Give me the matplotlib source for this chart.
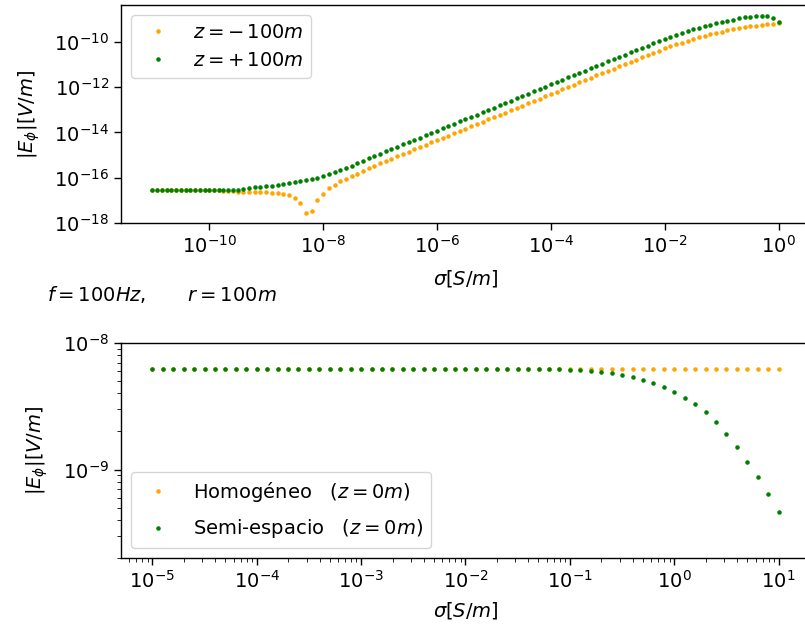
import matplotlib
matplotlib.use("Agg")
import matplotlib.pyplot as plt
import numpy as np
from matplotlib.ticker import NullLocator

plt.rcParams['font.size'] = 14
plt.rcParams['axes.linewidth'] = 1.0
plt.rcParams['xtick.major.size'] = 5
plt.rcParams['ytick.major.size'] = 5
plt.rcParams['xtick.minor.size'] = 3
plt.rcParams['ytick.minor.size'] = 3
plt.rcParams['xtick.major.width'] = 1.0
plt.rcParams['ytick.major.width'] = 1.0

# --- top panel: |E_phi| vs sigma, z = -100 m / +100 m (values as log10) ---
sig_exp_top = np.concatenate([np.linspace(-11, -9.5, 19), np.arange(-94, 1) / 10])

e_zneg_top = [-16.56, -16.56, -16.56, -16.56, -16.56, -16.56, -16.56, -16.56, -16.56, -16.56,
              -16.56, -16.56, -16.56, -16.56, -16.56, -16.57, -16.58, -16.59, -16.61,
              -16.62, -16.63, -16.63, -16.63, -16.64, -16.66, -16.68, -16.71, -16.76, -16.88,
              -17.10, -17.56, -17.45, -16.98, -16.72,
              -16.47, -16.30, -16.16, -16.04, -15.93, -15.82, -15.71, -15.59, -15.49, -15.37,
              -15.26, -15.16, -15.05, -14.95, -14.85, -14.75, -14.65, -14.54, -14.44, -14.34,
              -14.24, -14.14, -14.03, -13.93, -13.83, -13.73, -13.63, -13.52, -13.42, -13.32,
              -13.22, -13.12, -13.01, -12.91, -12.81, -12.71, -12.61, -12.50, -12.40, -12.30,
              -12.20, -12.10, -11.99, -11.89, -11.79, -11.69, -11.59, -11.48, -11.38, -11.28,
              -11.18, -11.08, -10.98, -10.88, -10.78, -10.68, -10.58, -10.48, -10.38, -10.28,
              -10.19, -10.11, -10.03, -9.95, -9.87, -9.80, -9.73, -9.66, -9.60, -9.54,
              -9.48, -9.43, -9.38, -9.34, -9.31, -9.28, -9.25, -9.22, -9.19, -9.15]

e_zpos_top = [-16.56, -16.56, -16.56, -16.56, -16.56, -16.56, -16.56, -16.56, -16.56, -16.56,
              -16.56, -16.56, -16.56, -16.56, -16.56, -16.56, -16.55, -16.54, -16.52,
              -16.49, -16.46, -16.42, -16.39, -16.37, -16.35, -16.32, -16.29, -16.24, -16.19,
              -16.15, -16.10, -16.05, -15.99, -15.92,
              -15.84, -15.75, -15.66, -15.56, -15.46, -15.36, -15.26, -15.15, -15.05, -14.94,
              -14.84, -14.74, -14.63, -14.53, -14.43, -14.33, -14.23, -14.12, -14.02, -13.92,
              -13.82, -13.72, -13.61, -13.51, -13.41, -13.31, -13.21, -13.10, -13.00, -12.90,
              -12.80, -12.70, -12.59, -12.49, -12.39, -12.29, -12.19, -12.08, -11.98, -11.88,
              -11.78, -11.68, -11.57, -11.47, -11.37, -11.27, -11.17, -11.06, -10.96, -10.86,
              -10.76, -10.66, -10.56, -10.46, -10.36, -10.26, -10.16, -10.06, -9.96, -9.86,
              -9.77, -9.69, -9.61, -9.53, -9.45, -9.38, -9.31, -9.24, -9.18, -9.12,
              -9.06, -9.01, -8.96, -8.92, -8.89, -8.86, -8.85, -8.87, -8.95, -9.10]

# --- bottom panel: z = 0 m, homogeneous vs half-space (values as log10) ---
sig_exp_bot = np.arange(-50, 11) / 10

e_homog = [-8.206] * 61

e_semi = [-8.206, -8.206, -8.206, -8.206, -8.206, -8.206, -8.206, -8.206, -8.206, -8.206,
          -8.206, -8.206, -8.206, -8.206, -8.206, -8.206, -8.206, -8.206, -8.206, -8.206,
          -8.206, -8.206, -8.206, -8.206, -8.206, -8.206, -8.206, -8.206, -8.206, -8.206,
          -8.206, -8.206, -8.206, -8.206, -8.206, -8.206, -8.206, -8.206,
          -8.207, -8.209, -8.212, -8.216, -8.222, -8.230, -8.240, -8.254, -8.271, -8.293,
          -8.318, -8.350, -8.388, -8.432, -8.486, -8.548, -8.627, -8.720, -8.823, -8.939,
          -9.063, -9.196, -9.333]

top_labels = [r'$z = -\,100m$', r'$z = +\,100m$']
bot_labels = ['Homogéneo   $(z = 0m)$', 'Semi-espacio   $(z = 0m)$']

fig = plt.figure(figsize=(8.05, 6.35), dpi=100)
ax1 = fig.add_axes([0.1503, 0.6488, 0.8559, 0.3433])
ax2 = fig.add_axes([0.1503, 0.1213, 0.8559, 0.3386])

ax1.plot(10.0 ** sig_exp_top, 10.0 ** np.array(e_zneg_top), '.', ms=4.5, color='orange', label=top_labels[0])
ax1.plot(10.0 ** sig_exp_top, 10.0 ** np.array(e_zpos_top), '.', ms=4.5, color='green', label=top_labels[1])
ax1.set_xscale('log')
ax1.set_yscale('log')
ax1.set_xlim(10 ** -11.55, 10 ** 0.55)
ax1.set_ylim(1e-18, 10 ** -8.37)
ax1.set_xticks([10.0 ** k for k in range(-10, 1, 2)])
ax1.set_yticks([10.0 ** k for k in range(-18, -9, 2)])
ax1.xaxis.set_minor_locator(NullLocator())
ax1.yaxis.set_minor_locator(NullLocator())
ax1.set_xlabel(r'$\sigma [S/m]$', labelpad=8)
ax1.set_ylabel(r'$|E_\phi| [V/m]$', labelpad=9)
ax1.legend(loc='upper left')

ax2.plot(10.0 ** sig_exp_bot, 10.0 ** np.array(e_homog), '.', ms=4.5, color='orange', label=bot_labels[0])
ax2.plot(10.0 ** sig_exp_bot, 10.0 ** np.array(e_semi), '.', ms=4.5, color='green', label=bot_labels[1])
ax2.set_xscale('log')
ax2.set_yscale('log')
ax2.set_xlim(10 ** -5.3, 10 ** 1.3)
ax2.set_ylim(2e-10, 1e-8)
ax2.set_xlabel(r'$\sigma [S/m]$', labelpad=6)
ax2.set_ylabel(r'$|E_\phi| [V/m]$', labelpad=9)
ax2.legend(loc='lower left', labelspacing=0.7)

fig.text(0.058, 0.537, r'$f = 100Hz, \qquad r = 100m$', va='center', ha='left')

fig.savefig('out.png', dpi=100)
